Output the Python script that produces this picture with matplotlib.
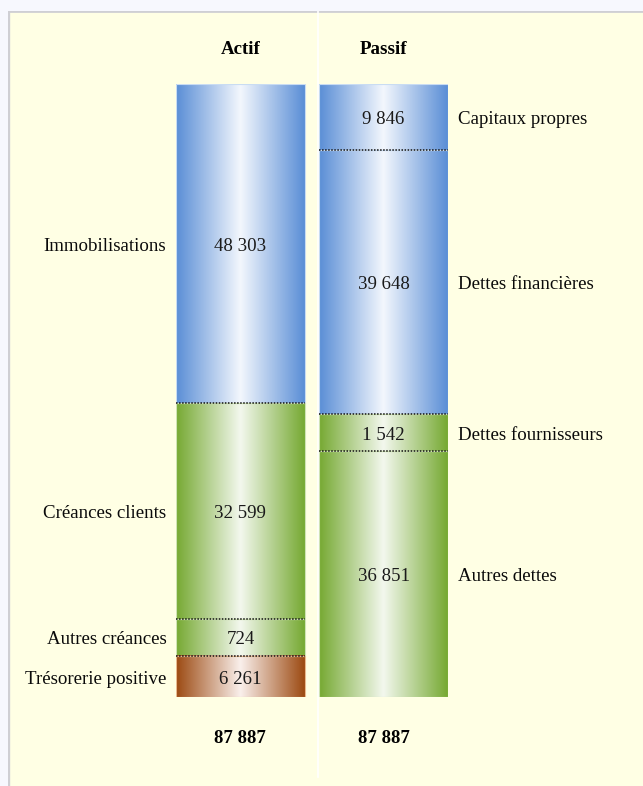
import matplotlib.pyplot as plt
import numpy as np
from matplotlib.colors import LinearSegmentedColormap
from matplotlib.patches import Rectangle
from matplotlib.lines import Line2D

# balance sheet data
columns = ["Actif", "Passif"]
actif_labels = ["Immobilisations", "Créances clients", "Autres créances", "Trésorerie positive"]
actif_values = [48303, 32599, 724, 6261]
actif_kinds = ["blue", "green", "green", "brown"]
passif_labels = ["Capitaux propres", "Dettes financières", "Dettes fournisseurs", "Autres dettes"]
passif_values = [9846, 39648, 1542, 36851]
passif_kinds = ["blue", "blue", "green", "green"]

palette = {
    "blue": ("#5a8ed6", "#f3f7fd", "#c9dcf2"),
    "green": ("#76a932", "#f3f8ee", "#cfe3b4"),
    "brown": ("#9c4a12", "#faf0ec", "#e9b98f"),
}

plt.rcParams['font.family'] = ['Liberation Serif', 'DejaVu Serif']
FS = 13.6
DY = -2  # text sits a little low in the original


def fmt(v):
    return f"{v:,}".replace(",", " ")


def display_heights(values, min_frac=37 / 613):
    # small segments get a minimum height so the label fits, the rest share what is left
    total = sum(values)
    min_h = min_frac * total
    small = [v < min_h for v in values]
    big_total = sum(v for v, s in zip(values, small) if not s)
    rest = total - min_h * sum(small)
    return [min_h if s else v * rest / big_total for v, s in zip(values, small)]


W, H = 643, 786
fig = plt.figure(figsize=(W / 100, H / 100), dpi=100, facecolor="#f7f8fe")

# panel behind the chart
panel = fig.add_axes([8 / W, 0, 1 - 8 / W, 1 - 11 / H])
panel.set_xlim(0, 1)
panel.set_ylim(0, 1)
panel.axis("off")
panel.add_patch(Rectangle((0, 0), 1, 1, transform=panel.transAxes, facecolor="#ffffe4", edgecolor="none"))
panel.add_line(Line2D([0, 1], [1, 1], transform=panel.transAxes, color="#cfcfd4", lw=2))
panel.add_line(Line2D([0, 0], [0, 1], transform=panel.transAxes, color="#cfcfd4", lw=2.4))
sep_x = (318 - 8) / (W - 8)
panel.add_line(Line2D([sep_x, sep_x], [9 / 775, 1], transform=panel.transAxes, color="white", lw=1.2))

ax = fig.add_axes([176 / W, (H - 697) / H, 272 / W, 613 / H])
ax.set_xlim(-0.45, 1.45)
total = sum(actif_values)
ax.set_ylim(total, 0)
ax.axis("off")
ax.patch.set_alpha(0)

bar_w = 0.9
grad = np.linspace(0, 1, 256).reshape(1, -1)

for i, (labels, values, kinds) in enumerate([(actif_labels, actif_values, actif_kinds),
                                              (passif_labels, passif_values, passif_kinds)]):
    heights = display_heights(values)
    x0, x1 = i - bar_w / 2, i + bar_w / 2
    top = 0
    for j, (lab, v, k, h) in enumerate(zip(labels, values, kinds, heights)):
        edge, center, rim = palette[k]
        cmap = LinearSegmentedColormap.from_list(k, [edge, center, edge])
        ax.imshow(grad, extent=[x0, x1, top + h, top], aspect="auto", cmap=cmap,
                  interpolation="bilinear", zorder=1)
        ax.add_patch(Rectangle((x0, top), bar_w, h, facecolor="none", edgecolor=rim, lw=0.8, zorder=2))
        mid = top + h / 2
        ax.annotate(fmt(v), (i, mid), xytext=(0, DY), textcoords="offset points",
                    ha="center", va="center", fontsize=FS, color="#1a1a1a", zorder=4)
        if i == 0:
            ax.annotate(lab, (x0, mid), xytext=(-7, DY), textcoords="offset points",
                        ha="right", va="center", fontsize=FS, color="#0a0a0a", annotation_clip=False)
        else:
            ax.annotate(lab, (x1, mid), xytext=(7, DY), textcoords="offset points",
                        ha="left", va="center", fontsize=FS, color="#0a0a0a", annotation_clip=False)
        if j > 0:
            ax.plot([x0, x1], [top, top], color="#111111", lw=1.1, ls=(0, (1, 1)), zorder=3)
        top += h

    ax.annotate(columns[i], (i, 0), xytext=(0, 27 + DY), textcoords="offset points", ha="center",
                va="center", fontsize=FS, fontweight="bold", annotation_clip=False)
    ax.annotate(fmt(sum(values)), (i, total), xytext=(0, -28 + DY), textcoords="offset points",
                ha="center", va="center", fontsize=FS, fontweight="bold", annotation_clip=False)

fig.savefig("out.png", dpi=100, facecolor=fig.get_facecolor())
